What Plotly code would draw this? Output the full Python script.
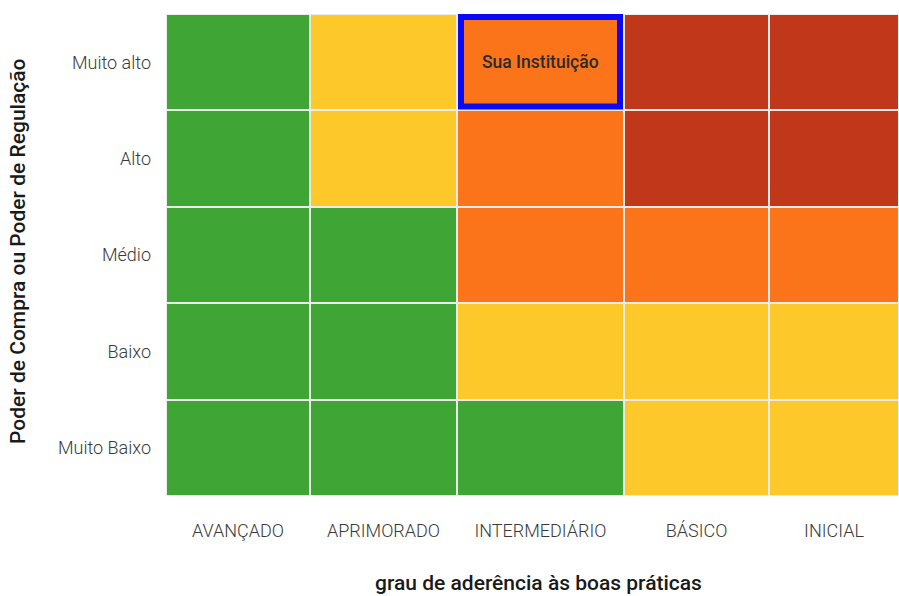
import plotly.graph_objects as go

# ---- data ----
categories_x = ["AVANÇADO", "APRIMORADO", "INTERMEDIÁRIO", "BÁSICO", "INICIAL"]
categories_y = ["Muito Baixo", "Baixo", "Médio", "Alto", "Muito alto"]  # bottom -> top
column_widths = [144, 147, 167, 145, 130]
# risk level per cell: 0 green, 1 yellow, 2 orange, 3 red (rows bottom -> top)
risk_muito_baixo = [0, 0, 0, 1, 1]
risk_baixo = [0, 0, 1, 1, 1]
risk_medio = [0, 0, 2, 2, 2]
risk_alto = [0, 1, 2, 3, 3]
risk_muito_alto = [0, 1, 2, 3, 3]
highlight_label = "Sua Instituição"
highlight_col = "INTERMEDIÁRIO"
highlight_row = "Muito alto"

colors = ["#3fa535", "#fdc82a", "#fc741a", "#c1371a"]

z = [risk_muito_baixo, risk_baixo, risk_medio, risk_alto, risk_muito_alto]

edges = [0]
for w in column_widths:
    edges.append(edges[-1] + w)
centers = [(edges[i] + edges[i + 1]) / 2 for i in range(len(column_widths))]

colorscale = []
n = len(colors)
for i, c in enumerate(colors):
    colorscale.append([i / n, c])
    colorscale.append([(i + 1) / n, c])

fig = go.Figure(go.Heatmap(
    z=z, x=edges, y=list(range(len(categories_y))),
    colorscale=colorscale, zmin=-0.5, zmax=n - 0.5,
    showscale=False, xgap=2, ygap=2, hoverinfo="skip",
))

ci = categories_x.index(highlight_col)
ri = categories_y.index(highlight_row)
px_per_row = 482 / len(categories_y)
lw = 6
fig.add_shape(type="rect", xref="x", yref="y",
              x0=edges[ci] + lw / 2 + 1, x1=edges[ci + 1] - lw / 2 - 1,
              y0=ri - 0.5 + (lw / 2 + 1) / px_per_row, y1=ri + 0.5 - (lw / 2) / px_per_row,
              line=dict(color="#0a0af5", width=lw))
fig.add_annotation(x=centers[ci], y=ri, text=highlight_label, showarrow=False,
                   font=dict(family="Roboto", size=17.5, color="#2b2b2b", weight=500))

font_fam = "Roboto"
fig.update_xaxes(range=[edges[0], edges[-1]], tickvals=centers, ticktext=categories_x,
                 showgrid=False, zeroline=False, showline=False, ticks="",
                 ticklabelstandoff=22,
                 tickfont=dict(family=font_fam, size=18, color="#3a3a3a", weight=300))
fig.update_yaxes(range=[-0.5, len(categories_y) - 0.5], tickvals=list(range(len(categories_y))),
                 ticktext=categories_y, showgrid=False, zeroline=False, showline=False, ticks="",
                 ticklabelstandoff=14,
                 tickfont=dict(family=font_fam, size=18, color="#3a3a3a", weight=300))

fig.add_annotation(xref="paper", yref="paper", x=0.5, y=0, yshift=-101, xshift=6,
                   text="grau de aderência às boas práticas", showarrow=False,
                   font=dict(family=font_fam, size=21, color="#1a1a1a", weight=500))
fig.add_annotation(xref="paper", yref="paper", x=0, y=0.5, xshift=-162, yshift=4,
                   text="Poder de Compra ou Poder de Regulação", textangle=-90, showarrow=False,
                   font=dict(family=font_fam, size=21, color="#1a1a1a", weight=500))

fig.update_layout(width=899, height=596, margin=dict(l=166, r=0, t=14, b=100),
                  paper_bgcolor="white", plot_bgcolor="#ececec")
fig.write_html("out.html")
